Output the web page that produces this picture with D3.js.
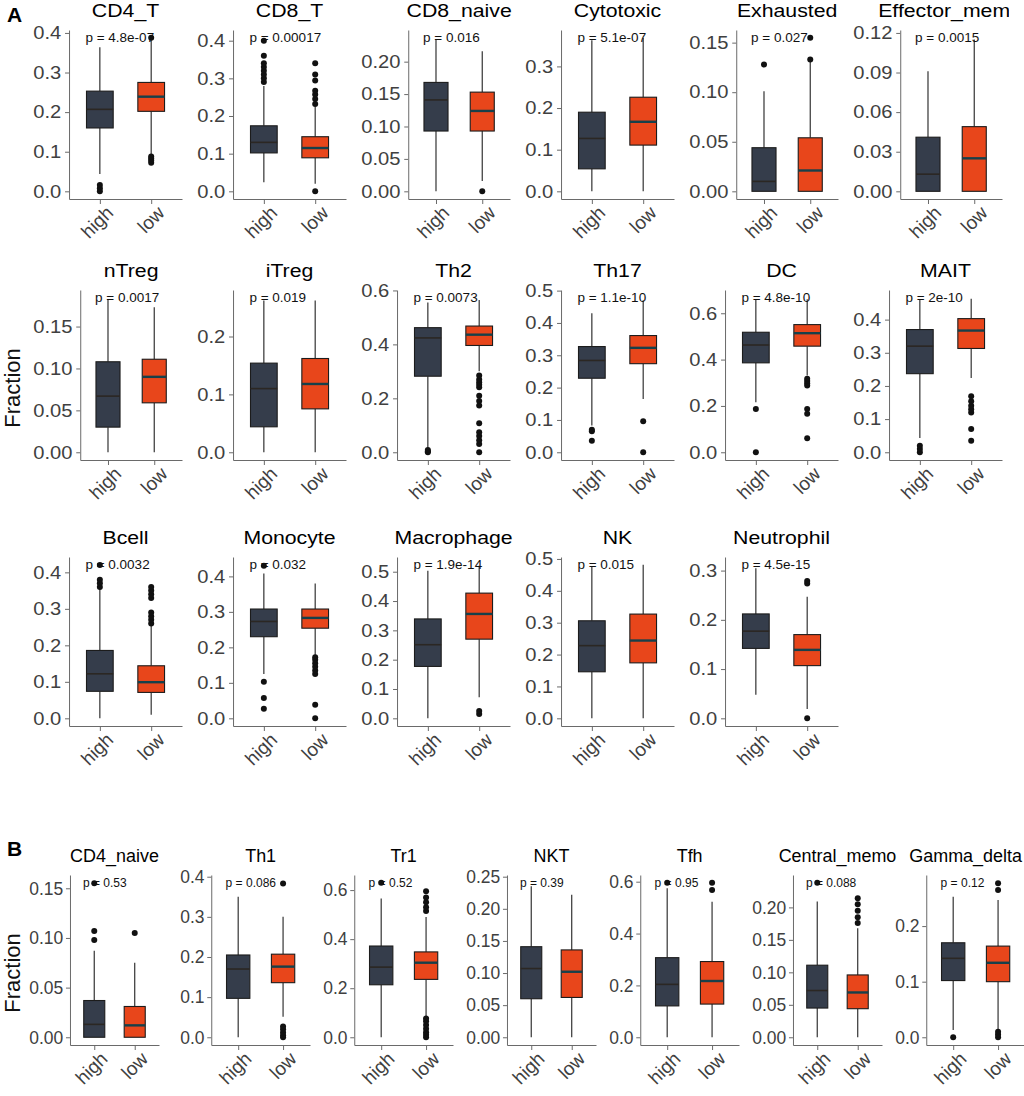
<!DOCTYPE html>
<html>
<head>
<meta charset="utf-8">
<script src="https://cdn.jsdelivr.net/npm/d3@7"></script>
<style>
  body { margin: 0; background: #fff; }
  svg { display: block; font-family: "Liberation Sans", Arial, sans-serif; }
</style>
</head>
<body>
<script>
// cell types, in reading order (A: 17 panels, B: 7 panels)
const panelNames = ["CD4_T","CD8_T","CD8_naive","Cytotoxic","Exhausted","Effector_memo",
  "nTreg","iTreg","Th2","Th17","DC","MAIT",
  "Bcell","Monocyte","Macrophage","NK","Neutrophil",
  "CD4_naive","Th1","Tr1","NKT","Tfh","Central_memo","Gamma_delta"];

const pLabels = ["p = 4.8e-07","p = 0.00017","p = 0.016","p = 5.1e-07","p = 0.027","p = 0.0015",
  "p = 0.0017","p = 0.019","p = 0.0073","p = 1.1e-10","p = 4.8e-10","p = 2e-10",
  "p = 0.0032","p = 0.032","p = 1.9e-14","p = 0.015","p = 4.5e-15",
  "p = 0.53","p = 0.086","p = 0.52","p = 0.39","p = 0.95","p = 0.088","p = 0.12"];

// largest value in each panel (where the p label sits)
const dataMax = [0.388,0.408,0.237,0.369,0.155,0.1164,
  0.1844,0.267,0.573,0.478,0.667,0.466,
  0.421,0.433,0.524,0.482,0.312,
  0.1556,0.385,0.63,0.2406,0.596,0.238,0.278];

const tickStep = [0.1,0.1,0.05,0.1,0.05,0.03,
  0.05,0.1,0.2,0.1,0.2,0.1,
  0.1,0.1,0.1,0.1,0.1,
  0.05,0.1,0.2,0.05,0.2,0.05,0.1];

const groups = ["high","low"];

// [lower whisker, q1, median, q3, upper whisker]
const highBox = [
  [0.044,0.160,0.207,0.253,0.364],[0.024,0.102,0.130,0.174,0.280],[0.000,0.093,0.141,0.168,0.235],
  [0.000,0.054,0.127,0.190,0.363],[0.000,0.000,0.010,0.044,0.101],[0.000,0.000,0.013,0.041,0.091],
  [0.000,0.030,0.067,0.108,0.183],[0.000,0.044,0.110,0.154,0.262],[0.012,0.282,0.424,0.462,0.555],
  [0.083,0.229,0.284,0.327,0.430],[0.216,0.386,0.463,0.518,0.660],[0.043,0.237,0.320,0.370,0.460],
  [0.000,0.074,0.122,0.186,0.355],[0.125,0.230,0.273,0.308,0.408],[0.000,0.177,0.251,0.339,0.503],
  [0.000,0.146,0.228,0.306,0.475],[0.048,0.142,0.177,0.212,0.305],
  [0.000,0.000,0.013,0.037,0.087],[0.000,0.097,0.170,0.205,0.350],[0.000,0.214,0.286,0.372,0.566],
  [0.000,0.060,0.107,0.141,0.235],[0.000,0.121,0.204,0.307,0.575],[0.000,0.045,0.072,0.111,0.209],
  [0.013,0.102,0.142,0.170,0.253]];

const lowBox = [
  [0.094,0.202,0.239,0.275,0.385],[0.020,0.089,0.115,0.145,0.225],[0.016,0.093,0.124,0.153,0.216],
  [0.000,0.111,0.167,0.226,0.369],[0.000,0.000,0.021,0.054,0.132],[0.000,0.000,0.025,0.049,0.115],
  [0.000,0.059,0.090,0.111,0.173],[0.000,0.075,0.118,0.162,0.262],[0.300,0.396,0.436,0.468,0.565],
  [0.165,0.274,0.323,0.361,0.470],[0.331,0.458,0.514,0.551,0.660],[0.224,0.313,0.367,0.403,0.463],
  [0.010,0.071,0.099,0.144,0.254],[0.177,0.254,0.283,0.308,0.380],[0.072,0.270,0.356,0.427,0.520],
  [0.000,0.174,0.244,0.327,0.482],[0.019,0.107,0.139,0.170,0.247],
  [0.000,0.000,0.012,0.031,0.075],[0.051,0.136,0.176,0.207,0.300],[0.082,0.236,0.304,0.348,0.490],
  [0.000,0.062,0.102,0.136,0.222],[0.000,0.128,0.217,0.292,0.523],[0.000,0.044,0.069,0.096,0.168],
  [0.013,0.100,0.134,0.164,0.247]];

const highOut = [
  [0.0,0.008,0.016],[0.29,0.30,0.31,0.32,0.33,0.34,0.36,0.40],[],
  [],[0.128],[],
  [],[],[0.0,0.004,0.008],
  [0.036,0.065,0.070],[0.0,0.187],[0.0,0.01,0.02],
  [0.36,0.37,0.38,0.42],[0.027,0.057,0.103,0.43],[],
  [],[],
  [0.098,0.107,0.155],[],[0.63],
  [],[0.596],[0.238],
  [0.0]];

const lowOut = [
  [0.072,0.078,0.083,0.088,0.388],[0.0,0.232,0.245,0.257,0.267,0.294,0.31,0.34],[0.0],
  [],[0.133,0.155],[],
  [],[],[0.0,0.031,0.045,0.06,0.074,0.108,0.173,0.19,0.21,0.241,0.25,0.26,0.27,0.285],
  [0.0,0.096],[0.06,0.166,0.187,0.288,0.298,0.308,0.317],[0.035,0.07,0.12,0.13,0.14,0.154,0.169],
  [0.26,0.27,0.28,0.29,0.33,0.34,0.35,0.36],[0.0,0.038,0.125,0.135,0.145,0.155,0.165,0.172],[0.015,0.025],
  [],[0.0,0.274,0.279],
  [0.105],[0.0,0.005,0.012,0.02,0.027,0.383],[0.0,0.01,0.02,0.035,0.05,0.065,0.077,0.515,0.53,0.55,0.57,0.595],
  [],[0.568,0.596],[0.176,0.185,0.195,0.205,0.214],
  [0.0,0.005,0.01,0.265,0.277]];

const fillColor = { high: "#353d4b", low: "#e8461b" };
const medianColor = { high: "#2b2723", low: "#17404a" };

// ---- layout ----
const width = 1024, height = 1096;

const rows = [
  { start: 0,  n: 6, top: 30,  bottom: 199,  left: c => 32 + 164 * c, cellW: 150, sx: 1.12, tsx: 1.15, gap: 9, pSize: 13.5, clipR: 7 },
  { start: 6,  n: 6, top: 290, bottom: 460,  left: c => 32 + 164 * c, cellW: 150, sx: 1.12, tsx: 1.15, gap: 9, pSize: 13.5, clipR: 7 },
  { start: 12, n: 5, top: 557, bottom: 726,  left: c => 32 + 164 * c, cellW: 150, sx: 1.12, tsx: 1.15, gap: 9, pSize: 13.5, clipR: 7 },
  { start: 17, n: 7, top: 875, bottom: 1045, left: c => c === 0 ? 29 : 37 + 143 * c, cellW: 130, sx: 0.97, tsx: 0.97, gap: 7, pSize: 12, clipR: 20 }
];

const svg = d3.select("body")
  .append("svg")
  .attr("width", width)
  .attr("height", height);

const defs = svg.append("defs");

function drawPanel(i, row, c) {
  const m = dataMax[i];
  const cellLeft = row.left(c);
  const right = cellLeft + row.cellW;
  const top = 1.05 * m;
  const y = d3.scaleLinear([-0.05 * m, top], [row.bottom, row.top]);
  const step = tickStep[i];
  const nt = Math.floor(top / step + 1e-6);
  const ticks = d3.range(0, nt + 1).map(k => k * step);
  const fmt = d3.format(step < 0.099 ? ".2f" : ".1f");

  const g = svg.append("g").attr("class", "panel");

  // y axis first, so we know how wide its labels are
  const ay = g.append("g")
    .call(d3.axisLeft(y).tickValues(ticks).tickFormat(fmt).tickSize(4).tickSizeOuter(0))
    .attr("font-size", null).attr("font-family", null);
  ay.selectAll("text")
    .attr("font-size", 18)
    .attr("fill", "#404040")
    .attr("transform", `scale(${row.sx},1)`);
  let labelW = 0;
  ay.selectAll("text").each(function () { labelW = Math.max(labelW, this.getComputedTextLength() * row.sx); });
  const axisX = cellLeft + labelW + row.gap;
  ay.attr("transform", `translate(${axisX},0)`);
  ay.selectAll("path, line").attr("stroke", "#6a6a6a");

  const x = d3.scalePoint(groups, [axisX, right]).padding(0.6);
  const bw = x.step() * 0.52;

  const ax = g.append("g")
    .attr("transform", `translate(0,${row.bottom})`)
    .call(d3.axisBottom(x).tickSize(5).tickSizeOuter(0))
    .attr("font-size", null).attr("font-family", null);
  ax.selectAll("path, line").attr("stroke", "#6a6a6a");
  ax.selectAll("text")
    .attr("x", 0).attr("y", 0).attr("dy", "0.75em")
    .attr("font-size", 19)
    .attr("fill", "#404040")
    .attr("text-anchor", "end")
    .attr("transform", "translate(4,5) rotate(-45)");

  const stats = [
    { key: "high", s: highBox[i], out: highOut[i] },
    { key: "low",  s: lowBox[i],  out: lowOut[i] }
  ];

  stats.forEach(d => {
    const cx = x(d.key);
    const [lo, q1, med, q3, hi] = d.s;
    g.append("line").attr("x1", cx).attr("x2", cx).attr("y1", y(q3)).attr("y2", y(hi))
      .attr("stroke", "#333").attr("stroke-width", 1.2);
    g.append("line").attr("x1", cx).attr("x2", cx).attr("y1", y(lo)).attr("y2", y(q1))
      .attr("stroke", "#333").attr("stroke-width", 1.2);
    g.append("rect")
      .attr("x", cx - bw / 2).attr("width", bw)
      .attr("y", y(q3)).attr("height", Math.max(0, y(q1) - y(q3)))
      .attr("fill", fillColor[d.key])
      .attr("stroke", "#1c1c1c").attr("stroke-width", 1.1);
    g.append("line").attr("x1", cx - bw / 2).attr("x2", cx + bw / 2).attr("y1", y(med)).attr("y2", y(med))
      .attr("stroke", medianColor[d.key]).attr("stroke-width", d.key === "low" ? 2.4 : 1.6);
  });

  // p value label
  g.append("text")
    .attr("x", x("high") - 0.28 * x.step())
    .attr("y", y(m))
    .attr("dominant-baseline", "central")
    .attr("font-size", row.pSize)
    .attr("fill", "#111")
    .text(pLabels[i]);

  stats.forEach(d => {
    g.selectAll(null)
      .data(d.out)
      .enter()
      .append("circle")
      .attr("cx", x(d.key))
      .attr("cy", v => y(v))
      .attr("r", 3)
      .attr("fill", "#111");
  });

  // strip title, clipped to the panel cell like the original facets
  defs.append("clipPath").attr("id", "clip" + i)
    .append("rect")
    .attr("x", cellLeft - 12).attr("y", row.top - 40)
    .attr("width", right - cellLeft + 12 + row.clipR).attr("height", 40);
  const title = g.append("g").attr("clip-path", `url(#clip${i})`)
    .append("text")
    .attr("text-anchor", "middle")
    .attr("font-size", 18.5)
    .attr("fill", "#000")
    .text(panelNames[i]);
  // keep titles inside the page
  const tw = title.node().getComputedTextLength() * row.tsx;
  const tcx = Math.min((axisX + right) / 2, width - 2 - tw / 2);
  title.attr("transform", `translate(${tcx},${row.top - 13}) scale(${row.tsx},1)`);
}

rows.forEach(row => {
  for (let c = 0; c < row.n; c++) drawPanel(row.start + c, row, c);
});

// y axis titles
[rows[1], rows[3]].forEach(r => {
  svg.append("text")
    .attr("transform", `translate(20,${(r.top + r.bottom) / 2 + 13}) rotate(-90)`)
    .attr("text-anchor", "middle")
    .attr("font-size", 22)
    .attr("fill", "#111")
    .text("Fraction");
});

// panel letters
svg.append("text").attr("x", 7).attr("y", 22).attr("font-size", 21).attr("font-weight", "bold").text("A");
svg.append("text").attr("x", 7).attr("y", 856).attr("font-size", 21).attr("font-weight", "bold").text("B");
</script>
</body>
</html>
